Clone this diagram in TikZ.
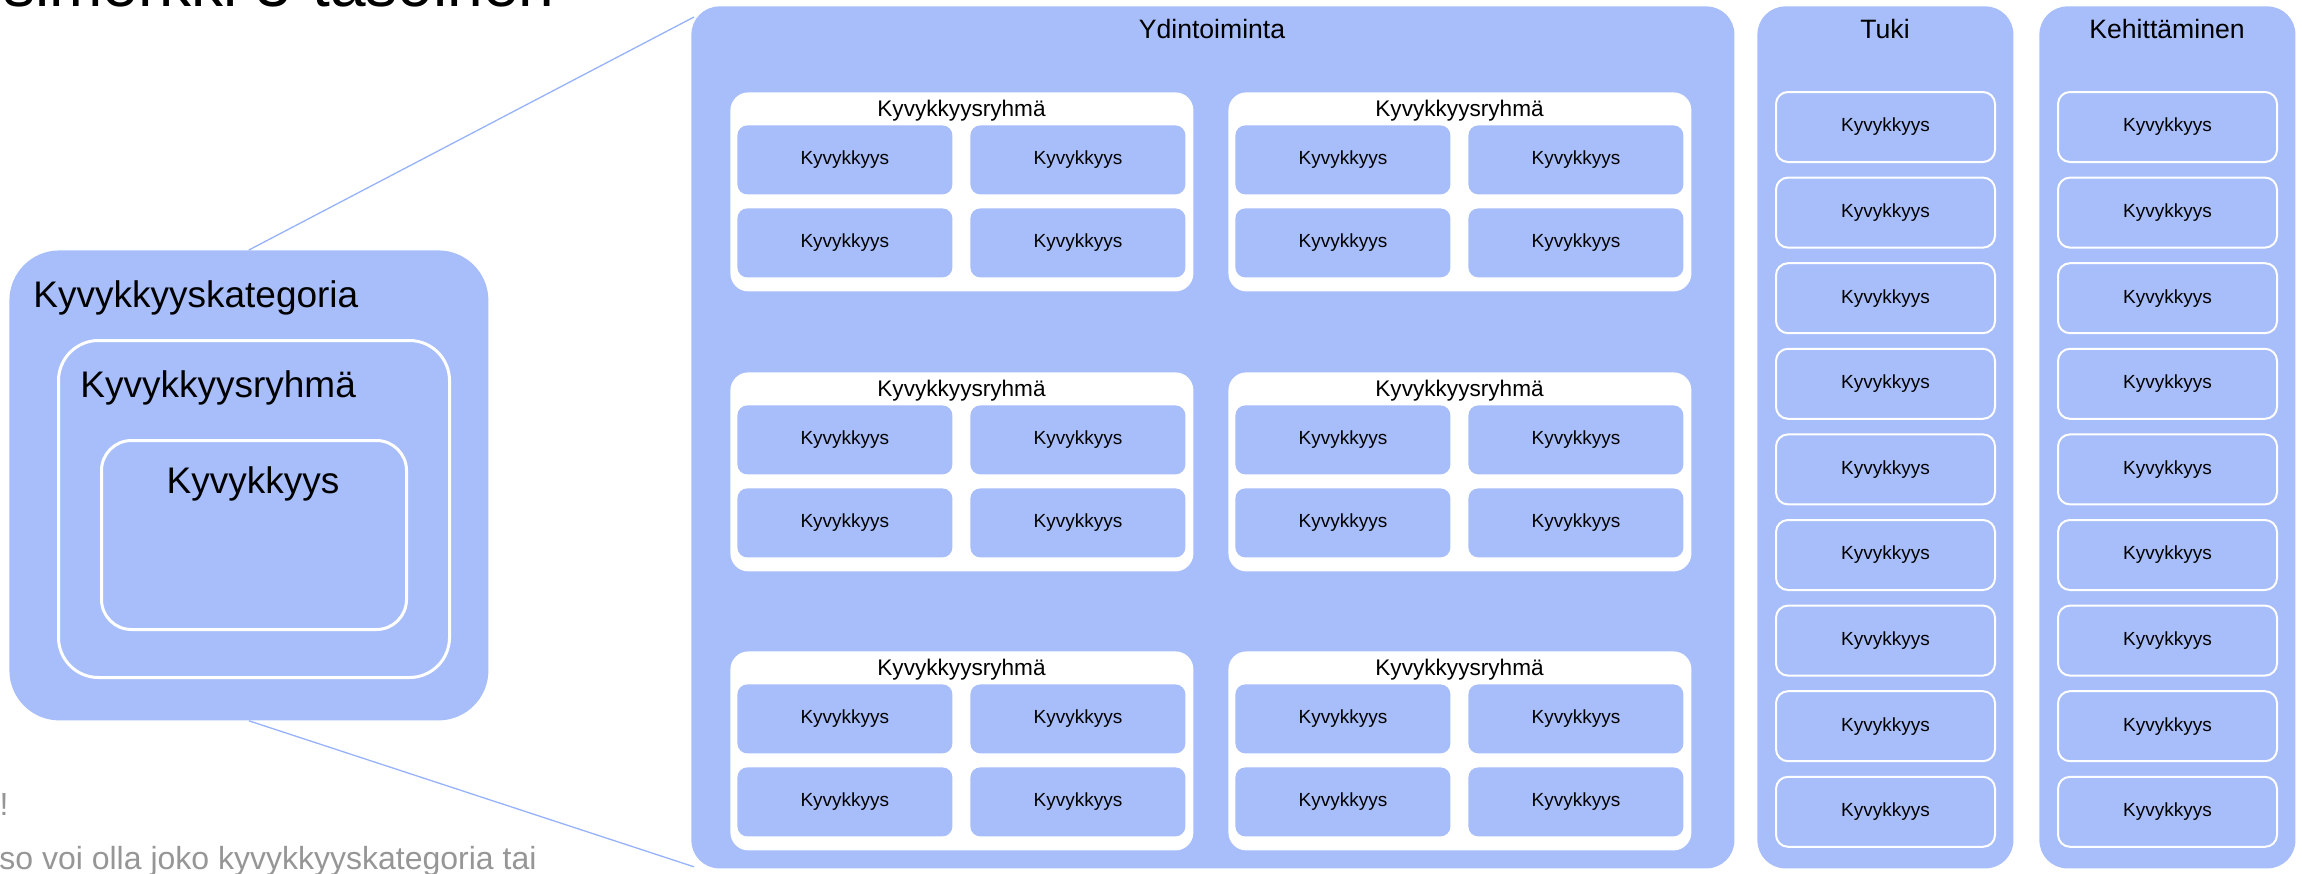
\documentclass[tikz,border=0pt]{standalone}
\usepackage{fontspec}
\setmainfont{Liberation Sans}
\usetikzlibrary{positioning, calc}

\definecolor{capblue}{RGB}{168,190,250}
\definecolor{zoomblue}{RGB}{150,178,250}
\definecolor{notegray}{RGB}{150,150,150}

\begin{document}
\begin{tikzpicture}[
    x=0.5pt, y=-0.5pt,
    area/.style={rectangle, fill=capblue, anchor=north west, inner sep=0pt},
    corebox/.style={area, minimum width=521.5pt, minimum height=431pt, rounded corners=14pt},
    colbox/.style={area, minimum width=128pt, minimum height=431pt, rounded corners=14pt},
    grpbox/.style={rectangle, fill=white, anchor=north west, inner sep=0pt, minimum width=231.5pt, minimum height=99.5pt, rounded corners=9pt},
    capbox/.style={area, minimum width=107.5pt, minimum height=34.5pt, rounded corners=5pt, font=\fontsize{9.5}{11}\selectfont},
    supbox/.style={area, draw=white, line width=1pt, minimum width=109.5pt, minimum height=35pt, rounded corners=6pt, font=\fontsize{9.5}{11}\selectfont},
    coltitle/.style={anchor=base, inner sep=0pt, font=\fontsize{13.3}{16}\selectfont},
    grptitle/.style={anchor=base, inner sep=0pt, font=\fontsize{11.3}{13}\selectfont},
    bigtext/.style={anchor=base west, inner sep=0pt, font=\fontsize{18.5}{22}\selectfont},
    note/.style={inner sep=0pt, text=notegray, font=\fontsize{16}{19}\selectfont},
    zoomline/.style={draw=zoomblue, line width=0.65pt}
]
\clip (0,0) rectangle (2302,873);

% cut-off heading and note
\node[anchor=base east, inner sep=0pt, font=\fontsize{32}{38}\selectfont] (heading) at (555,6) {simerkki 3-tasoinen};
\node[note, anchor=base east] (notemark) at (9,815) {!};
\node[note, anchor=base west] (notetext) at (-1,869) {so voi olla joko kyvykkyyskategoria tai};

% legend: nested levels
\node[area, minimum width=239.5pt, minimum height=235pt, rounded corners=25pt] (cat) at (9,250) {};
\node[area, draw=white, line width=1.5pt, minimum width=195.5pt, minimum height=168.5pt, rounded corners=20pt] (grp) at (57,339) {};
\node[area, draw=white, line width=1.5pt, minimum width=152.5pt, minimum height=94.5pt, rounded corners=15pt] (cap) at (100,439) {};
\node[bigtext] (cattitle) at (33,307) {Kyvykkyyskategoria};
\node[bigtext] (grptitle) at (80,397) {Kyvykkyysryhmä};
\node[bigtext, anchor=base] (captitle) at (253,493) {Kyvykkyys};

% categories
\node[corebox] (core) at (691,6) {};
\node[colbox] (support) at (1757,6) {};
\node[colbox] (develop) at (2039,6) {};
\node[coltitle] (coretitle) at (1212,38) {Ydintoiminta};
\node[coltitle] (supporttitle) at (1885,38) {Tuki};
\node[coltitle] (developtitle) at (2167,38) {Kehittäminen};

% zoom lines
\coordinate (coretl) at ($(core.north west)+(3,11)$);
\coordinate (corebl) at ($(core.south west)+(3,-2)$);
\draw[zoomline] (cat.north) -- (coretl);
\draw[zoomline] (cat.south) -- (corebl);

% core groups
\foreach \gx [count=\c] in {730,1228}
  \foreach \gy [count=\r] in {92,372,651} {
    \node[grpbox] (g\c\r) at (\gx,\gy) {};
    \node[grptitle] (t\c\r) at (\gx+231.5,\gy+24) {Kyvykkyysryhmä};
    \foreach \dx [count=\i] in {7,240}
      \foreach \dy [count=\j] in {33,116}
        \node[capbox] (c\c\r\i\j) at (\gx+\dx,\gy+\dy) {Kyvykkyys};
  }

% support and development capabilities
\foreach \i in {0,...,8} {
  \node[supbox] (s\i) at (1775,91+85.6*\i) {Kyvykkyys};
  \node[supbox] (d\i) at (2057,91+85.6*\i) {Kyvykkyys};
}

\end{tikzpicture}
\end{document}
